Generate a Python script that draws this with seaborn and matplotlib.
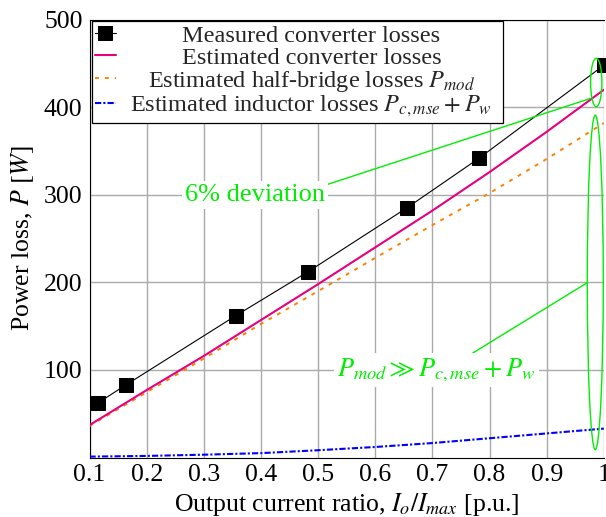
import numpy as np
import pandas as pd
import matplotlib
matplotlib.use("Agg")
import matplotlib.pyplot as plt
import seaborn as sns
from matplotlib.patches import Ellipse
from matplotlib.offsetbox import DrawingArea

# ---------------- data ----------------
meas_x = [0.114, 0.164, 0.356, 0.482, 0.655, 0.782, 1.0]
meas_y = [62, 83, 162, 212, 285, 342, 448]

est_x = [0.1, 0.2, 0.3, 0.4, 0.5, 0.6, 0.7, 0.8, 0.9, 1.0]
est_total = [37, 77, 116, 157, 198, 240, 282, 326, 372, 420]
est_halfbridge = [36, 74.5, 113, 152.5, 190, 228, 265.5, 302, 341, 382]
est_inductor = [1, 1.8, 3.2, 5, 8.3, 12, 16.5, 22, 27.5, 33]

xticks = [0.1, 0.2, 0.3, 0.4, 0.5, 0.6, 0.7, 0.8, 0.9, 1.0]
xtick_labels = ["0.1", "0.2", "0.3", "0.4", "0.5", "0.6", "0.7", "0.8", "0.9", "1"]
yticks = [100, 200, 300, 400, 500]

legend_labels = [
    "Measured converter losses",
    "Estimated converter losses",
    r"Estimated half-bridge losses $P_{mod}$",
    r"Estimated inductor losses $P_{c,mse}+P_w$",
]
note_dev = "6% deviation"
note_dom = r"$P_{mod} \gg P_{c,mse}+P_w$"

# ---------------- style ----------------
sns.set_theme(style="white")
plt.rcParams["font.family"] = ["Liberation Serif", "DejaVu Serif"]
plt.rcParams["mathtext.fontset"] = "stix"

PINK = "#e6007e"
ORANGE = "#ff8000"
BLUE = "#0000ff"
GREEN = "#00ee00"

W, H, DPI = 606, 517, 100
fig = plt.figure(figsize=(W / DPI, H / DPI), dpi=DPI)
x0, x1 = 89.5, 603.85
y_top, y_bot = 19.75, 457.5
ax = fig.add_axes([x0 / W, (H - y_bot) / H, (x1 - x0) / W, (y_bot - y_top) / H])

df_meas = pd.DataFrame({"x": meas_x, "y": meas_y})
df_est = pd.DataFrame({"x": est_x, "total": est_total,
                       "hb": est_halfbridge, "ind": est_inductor})

sns.lineplot(data=df_meas, x="x", y="y", ax=ax, color="black", lw=0.8,
             marker="s", markersize=9.5, markerfacecolor="black",
             markeredgecolor="black", clip_on=False, zorder=5)
sns.lineplot(data=df_est, x="x", y="total", ax=ax, color=PINK, lw=1.5, zorder=4)
sns.lineplot(data=df_est, x="x", y="hb", ax=ax, color=ORANGE, lw=1.4,
             linestyle=(0, (2, 3.1)), zorder=3)
sns.lineplot(data=df_est, x="x", y="ind", ax=ax, color=BLUE, lw=1.5,
             linestyle=(0, (3, 1, 1, 1)), zorder=3)

ax.set_xlim(0.1, 1.0)
ax.set_ylim(0, 500)
ax.set_xticks(xticks)
ax.set_xticklabels(xtick_labels)
ax.set_yticks(yticks)
ax.tick_params(length=0, labelsize=18.5, pad=5, colors="black")
ax.grid(True, color="#aaaaaa", lw=1.0)
ax.set_axisbelow(True)
for side in ["left", "bottom", "top"]:
    ax.spines[side].set_color("black")
    ax.spines[side].set_linewidth(0.8)
ax.spines["right"].set_visible(False)

ax.set_xlabel(r"Output current ratio, $I_o/I_{max}$ [p.u.]", fontsize=18.5,
              labelpad=3, color="black")
ax.set_ylabel(r"Power loss, $P$ $[W]$", fontsize=18.5, labelpad=6, color="black")

# ---------------- annotations ----------------
ax.add_patch(Ellipse((0.9867, 428.3), 0.0198, 55.3, fill=False, ec=GREEN, lw=1.0, zorder=6))
ax.add_patch(Ellipse((0.985, 200), 0.028, 382, fill=False, ec=GREEN, lw=1.0, zorder=6))
ax.plot([0.512, 0.976], [311, 410], color=GREEN, lw=1.0, zorder=6)
ax.plot([0.745, 0.970], [109, 199.3], color=GREEN, lw=1.0, zorder=6)
box = dict(boxstyle="square,pad=0.12", fc="white", ec="none")
ax.text(0.39, 300, note_dev, color=GREEN, fontsize=19, ha="center",
        va="center", bbox=box, zorder=7)
ax.text(0.707, 100, note_dom, color=GREEN, fontsize=19, ha="center",
        va="center", bbox=box, zorder=7)

# ---------------- legend ----------------
handles = ax.get_lines()[:4]
leg = ax.legend(handles, legend_labels, loc="upper left",
                bbox_to_anchor=((91.5 - x0) / (x1 - x0), 1 - (21 - y_top) / (y_bot - y_top)),
                borderaxespad=0, fontsize=17.5, frameon=True, fancybox=False,
                framealpha=1, edgecolor="black", handlelength=0.85,
                handletextpad=0.3, borderpad=0.15, labelspacing=0.0)
leg.get_frame().set_linewidth(0.9)
leg.set_zorder(10)

# center legend texts (as in the original pgfplots legend)
fig.canvas.draw()
renderer = fig.canvas.get_renderer()
widths = [t.get_window_extent(renderer).width for t in leg.get_texts()]
wmax = max(widths)
column = leg._legend_handle_box.get_children()[0]
for row, w in zip(column.get_children(), widths):
    pad = (wmax - w) / 2 * 72.0 / DPI
    kids = row.get_children()
    kids.insert(1, DrawingArea(pad, 0))
    kids.append(DrawingArea(pad, 0))

fig.savefig("out.png", dpi=DPI)
